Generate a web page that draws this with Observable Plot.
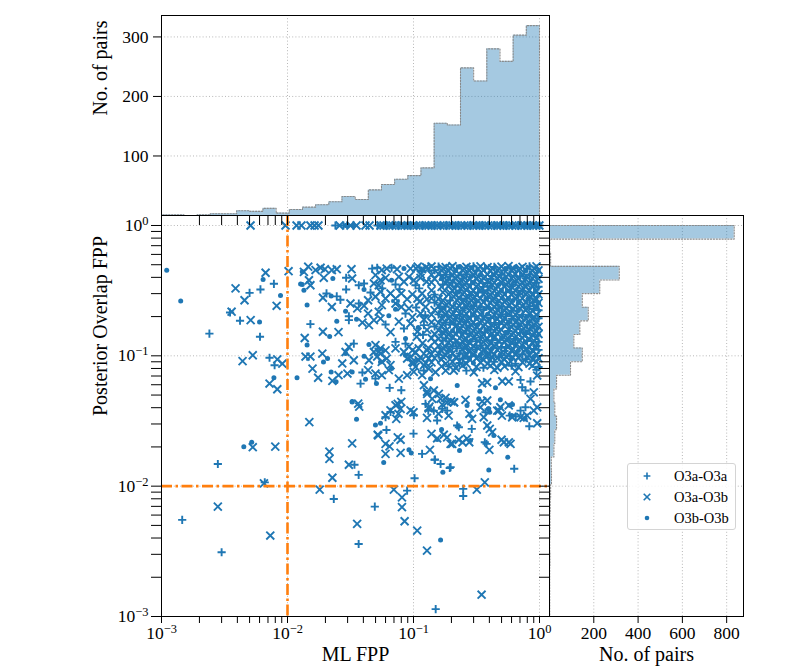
<!DOCTYPE html>
<html>
<head>
<meta charset="utf-8">
<script src="https://cdn.jsdelivr.net/npm/d3@7"></script>
<script src="https://cdn.jsdelivr.net/npm/@observablehq/plot@0.6"></script>
<style>
  html, body { margin: 0; padding: 0; background: #fff; }
  #wrap { position: relative; width: 801px; height: 670px; overflow: hidden; background: #fff; }
  #wrap svg { position: absolute; left: 0; top: 0; }
</style>
</head>
<body>
<div id="wrap"></div>
<script>
// ---------------- DATA ----------------
const seriesNames = ["O3a-O3a", "O3a-O3b", "O3b-O3b"];
const fppThreshold = 0.01;

// O3a-O3a pairs  [ML FPP, posterior overlap FPP]
const o3aO3a = [
  [0.0024,0.148],[0.0035,0.215],[0.0042,0.186],[0.005,0.304],[0.0061,0.323],[0.00605,0.14],[0.0078,0.357],[0.0072,0.0966],[0.0079,0.0847],
  [0.0028,0.0148],[0.0066,0.0107],[0.00146,0.00551],[0.003,0.00311],[0.0233,0.00798],[0.034,0.0146],[0.0367,0.0122],[0.0367,0.0036],
  [0.0493,0.00697],[0.089,0.00925],[0.102,0.0115],[0.15,0.00114],[0.248,0.00953],[0.248,0.0084],[0.63,0.0136],[0.164,0.0148],[0.197,0.014],
  [0.148,0.016],[0.061,0.027],[0.06,0.0338],[0.1,0.0253],[0.117,0.0177],[0.147,0.0159],[0.194,0.0138],[0.131,0.038],[0.154,0.0319],
  [0.222,0.0292],[0.229,0.0283],[0.29,0.0275],[0.368,0.0217],[0.38,0.0211],[0.58,0.0348],[0.83,0.0288],
  [0.047,0.467],[0.0515,0.474],[0.067,0.474],[0.0292,0.397],[0.072,0.353],[0.1037,0.348],[0.0204,0.301],[0.0246,0.286],[0.0263,0.269],
  [0.0292,0.323],[0.0368,0.348],[0.0405,0.359],[0.0456,0.306],[0.0565,0.329],[0.0775,0.325],[0.111,0.329],[0.0368,0.252],[0.0307,0.201],
  [0.0864,0.211],[0.0152,0.175],[0.0307,0.188],[0.06,0.174],[0.084,0.162],[0.121,0.172],[0.0336,0.124],[0.072,0.128],[0.0864,0.124],
  [0.0393,0.0745],[0.038,0.0612],[0.0499,0.0668],[0.0647,0.0568],[0.08,0.0545],[0.0657,0.0371],[0.1006,0.035],
  [0.1207,0.0771],[0.729,0.0574],[0.774,0.0542],[0.707,0.0654],[0.848,0.0636],[0.1245,0.0428],[0.145,0.038],[0.169,0.0392],[0.1851,0.038],
  [0.3727,0.0369],[0.6484,0.0342],[0.707,0.038],[0.774,0.0403],[0.105,0.235],[0.124,0.205],[0.119,0.145],
  [0.024,1],[0.0278,1],[0.0518,1],[0.0611,1],[0.076,1],[0.0946,1],[0.1179,1],[0.1467,1],[0.1826,1],[0.2273,1],[0.2829,1],[0.3522,1],
  [0.4384,1],[0.546,1],[0.68,1],[0.846,1],[0.0578,1],[0.0896,1],[0.1389,1],[0.2152,1],[0.3334,1],[0.517,1],[0.801,1],[0.997,1],
  [0.158,0.483],[0.299,0.487],[0.438,0.481],[0.833,0.485],
  [0.147,0.454],[0.316,0.449],[0.528,0.453],[0.116,0.451],
  [0.18,0.42],[0.263,0.423],[0.499,0.419],[0.833,0.421],
  [0.245,0.392],[0.409,0.389],[0.776,0.394],
  [0.204,0.365],[0.387,0.362],[0.645,0.367],[0.947,0.364],
  [0.216,0.34],[0.359,0.338],[0.6,0.342],[0.982,0.339],
  [0.232,0.317],[0.387,0.319],[0.733,0.316],
  [0.147,0.295],[0.278,0.293],[0.68,0.296],
  [0.263,0.275],[0.387,0.277],[0.833,0.274],
  [0.147,0.256],[0.316,0.258],[0.463,0.256],[0.88,0.257],
  [0.18,0.239],[0.299,0.241],[0.499,0.238],[0.833,0.24],
  [0.245,0.223],[0.359,0.225],[0.6,0.222],[0.982,0.224],
  [0.158,0.208],[0.232,0.206],[0.499,0.209],[0.733,0.207],
  [0.216,0.193],[0.409,0.195],[0.6,0.192],[0.982,0.194],
  [0.18,0.18],[0.263,0.182],[0.438,0.179],[0.833,0.181],
  [0.147,0.168],[0.278,0.17],[0.409,0.167],[0.68,0.169],
  [0.263,0.156],[0.387,0.158],[0.568,0.155],[0.833,0.157],
  [0.167,0.146],[0.278,0.148],[0.528,0.145],[0.776,0.147],
  [0.18,0.136],[0.34,0.138],[0.645,0.135],
  [0.216,0.127],[0.316,0.129],[0.463,0.126],[0.982,0.128],
  [0.204,0.118],[0.34,0.12],[0.499,0.117],[0.947,0.119],
  [0.19,0.11],[0.316,0.112],[0.528,0.109],[0.982,0.111],
  [0.158,0.102],[0.232,0.104],[0.499,0.101],[0.733,0.103],
  [0.245,0.095],[0.409,0.097],[0.776,0.094],
  [0.232,0.088],[0.438,0.09],[0.645,0.087],
  [0.19,0.083],[0.359,0.081],[0.6,0.084],[0.982,0.082],
  [0.263,0.077],[0.947,0.078],
  [0.221,0.467],[0.369,0.469],[0.796,0.466],[0.195,0.405],[0.42,0.407],[0.7,0.406],[0.171,0.353],[0.286,0.354],[0.616,0.352],
  [0.325,0.306],[0.542,0.307],[0.904,0.305],[0.195,0.266],[0.369,0.267],[0.796,0.265],[0.252,0.231],[0.477,0.232],[0.904,0.23],
  [0.286,0.2],[0.542,0.201],[0.195,0.174],[0.477,0.175],[0.796,0.173],[0.221,0.151],[0.369,0.152],[0.7,0.15],
  [0.171,0.131],[0.42,0.132],[0.796,0.13],[0.221,0.114],[0.542,0.115],[0.904,0.113],[0.286,0.099],[0.477,0.098]
];

// O3a-O3b pairs
const o3aO3b = [
  [0.00387,0.329],[0.0036,0.218],[0.00456,0.267],[0.0051,0.188],[0.0053,0.101],[0.0044,0.091],[0.0067,0.434],[0.0082,0.242],[0.0102,0.446],
  [0.0083,0.094],[0.0091,0.087],[0.0072,0.0613],[0.0083,0.0554],[0.0053,0.0199],[0.008,0.0201],[0.0065,0.0105],[0.0028,0.00697],[0.0073,0.00418],
  [0.0149,0.031],[0.0215,0.0184],[0.0215,0.0162],[0.0227,0.0116],[0.018,0.0094],[0.0326,0.0213],[0.0307,0.0146],[0.0357,0.00514],[0.0525,0.0245],
  [0.0698,0.0094],[0.081,0.0082],[0.081,0.0069],[0.085,0.00538],[0.107,0.00456],[0.128,0.0032],[0.347,0.00147],[0.318,0.0094],[0.368,0.0107],
  [0.0371,0.0408],[0.052,0.0248],[0.06,0.0211],[0.06,0.0177],[0.0645,0.0202],[0.075,0.0237],[0.079,0.0227],[0.079,0.018],[0.073,0.0328],
  [0.076,0.0359],[0.079,0.0392],[0.075,0.0428],[0.1,0.0369],[0.135,0.019],[0.134,0.0408],[0.128,0.0334],[0.139,0.0252],[0.154,0.0233],
  [0.174,0.0248],[0.185,0.0237],[0.203,0.0211],[0.169,0.0423],[0.158,0.0359],[0.19,0.0348],[0.185,0.044],[0.21,0.044],[0.278,0.0359],
  [0.292,0.0328],[0.34,0.0403],[0.361,0.0338],[0.385,0.0292],[0.403,0.0275],[0.421,0.0259],[0.229,0.0227],[0.245,0.0217],[0.266,0.0232],
  [0.277,0.0217],[0.197,0.0211],[0.4,0.019],[0.5,0.0227],[0.521,0.0217],[0.571,0.0217],[0.589,0.0211],[0.475,0.038],[0.503,0.0348],
  [0.607,0.0338],[0.707,0.0338],[0.75,0.0334],[0.798,0.0348],[0.901,0.038],[0.959,0.0304],
  [0.0135,0.441],[0.0146,0.483],[0.0167,0.455],[0.0183,0.474],[0.0198,0.462],[0.0225,0.455],[0.0246,0.462],[0.0322,0.462],[0.056,0.455],
  [0.0613,0.467],[0.074,0.462],[0.0947,0.467],[0.105,0.467],[0.117,0.462],[0.131,0.467],
  [0.0148,0.38],[0.0152,0.348],[0.0194,0.397],[0.0326,0.392],[0.0499,0.416],[0.0547,0.38],[0.06,0.397],[0.053,0.348],[0.0485,0.359],
  [0.0765,0.404],[0.084,0.37],[0.092,0.404],[0.1006,0.38],[0.1137,0.397],[0.127,0.37],
  [0.0191,0.279],[0.0436,0.267],[0.0499,0.284],[0.0547,0.31],[0.06,0.275],[0.0657,0.301],[0.072,0.275],[0.08,0.301],[0.089,0.272],
  [0.098,0.296],[0.1075,0.275],[0.117,0.301],[0.128,0.272],
  [0.0225,0.237],[0.0316,0.252],[0.0405,0.242],[0.0358,0.231],[0.0436,0.211],[0.0485,0.188],[0.056,0.245],[0.053,0.218],[0.072,0.252],
  [0.098,0.198],[0.1137,0.211],[0.08,0.237],[0.1245,0.237],[0.092,0.231],
  [0.0393,0.18],[0.0443,0.172],[0.0547,0.193],[0.0657,0.152],[0.1075,0.153],[0.0765,0.183],[0.0947,0.177],[0.128,0.158],
  [0.0191,0.153],[0.0254,0.152],[0.0137,0.137],[0.0307,0.117],[0.0289,0.107],[0.0499,0.121],[0.0547,0.114],[0.053,0.107],[0.06,0.11],
  [0.072,0.114],[0.084,0.107],[0.098,0.11],[0.11,0.114],[0.128,0.11],
  [0.0139,0.0987],[0.0152,0.0987],[0.0189,0.104],[0.0272,0.0874],[0.0336,0.0925],[0.0443,0.0925],[0.0485,0.107],[0.0515,0.0987],[0.0547,0.104],
  [0.056,0.0898],[0.0613,0.0953],[0.0657,0.0848],[0.089,0.0953],[0.098,0.0898],[0.11,0.0925],[0.121,0.0848],[0.132,0.0953],[0.1037,0.0823],
  [0.0158,0.0798],[0.0175,0.0679],[0.0227,0.0643],[0.0254,0.071],[0.0299,0.0731],[0.0436,0.0776],[0.0499,0.0731],[0.056,0.071],[0.0637,0.0776],
  [0.0765,0.0668],[0.089,0.071],[0.1006,0.0753],[0.117,0.071],[0.121,0.0595],[0.128,0.053],
  [0.0364,0.043],[0.06,0.035],[0.0657,0.0382],[0.072,0.0418],[0.08,0.0443],[0.0947,0.0382],[0.132,0.0395],
  [0.1322,0.0795],[0.1494,0.0748],[0.2088,0.0771],[0.301,0.0748],[0.351,0.0616],[0.3846,0.0627],[0.506,0.0638],[0.5705,0.0636],[0.959,0.0706],
  [0.901,0.0525],[0.145,0.0542],[0.1588,0.0511],[0.1284,0.0511],[0.1407,0.0468],[0.1637,0.0468],[0.1795,0.0476],[0.1992,0.0448],[0.2088,0.044],
  [0.2587,0.046],[0.351,0.0448],[0.3846,0.0454],[0.4617,0.038],[0.489,0.0403],[0.5705,0.0416],[0.848,0.0468],[0.959,0.0403],
  [0.112,0.26],[0.121,0.19],[0.106,0.14],[0.118,0.125],[0.113,0.097],[0.125,0.088],
  [0.092,0.118],[0.095,0.098],[0.104,0.106],[0.126,0.1],[0.131,0.115],[0.1,0.088],
  [0.00509,1],[0.00964,1],[0.0118,1],[0.0129,1],[0.0152,1],[0.0164,1],[0.0176,1],[0.0259,1],[0.0316,1],[0.0353,1],[0.0416,1],[0.0448,1],
  [0.0547,1],[0.0578,1],[0.0645,1],[0.0681,1],[0.072,1],[0.0803,1],[0.0848,1],[0.0896,1],[0.1,1],[0.1056,1],[0.1116,1],[0.1245,1],
  [0.1315,1],[0.1389,1],[0.155,1],[0.1637,1],[0.1729,1],[0.1929,1],[0.2037,1],[0.2152,1],[0.2401,1],[0.2536,1],[0.2679,1],[0.2989,1],
  [0.3157,1],[0.3334,1],[0.372,1],[0.3929,1],[0.415,1],[0.463,1],[0.489,1],[0.517,1],[0.577,1],[0.609,1],[0.643,1],[0.718,1],[0.758,1],
  [0.801,1],[0.893,1],[0.944,1],[0.997,1],
  [0.139,0.485],[0.18,0.48],[0.204,0.487],[0.263,0.482],[0.34,0.486],[0.387,0.479],[0.499,0.484],[0.568,0.488],[0.733,0.481],[0.947,0.486],[0.126,0.478],[0.108,0.484],
  [0.167,0.452],[0.19,0.448],[0.245,0.455],[0.278,0.45],[0.359,0.453],[0.409,0.447],[0.463,0.454],[0.6,0.45],[0.68,0.456],[0.88,0.449],[0.982,0.453],
  [0.139,0.42],[0.158,0.424],[0.204,0.418],[0.232,0.423],[0.299,0.419],[0.387,0.422],[0.438,0.417],[0.568,0.421],[0.645,0.425],[0.733,0.418],[0.947,0.422],[0.114,0.423],
  [0.147,0.39],[0.19,0.394],[0.216,0.389],[0.278,0.393],[0.316,0.388],[0.359,0.395],[0.463,0.391],[0.6,0.394],[0.68,0.389],[0.88,0.393],[0.982,0.39],
  [0.139,0.366],[0.18,0.362],[0.232,0.367],[0.263,0.363],[0.34,0.368],[0.438,0.364],[0.499,0.367],[0.568,0.362],[0.733,0.366],[0.833,0.363],
  [0.167,0.338],[0.19,0.342],[0.245,0.337],[0.278,0.341],[0.316,0.339],[0.463,0.343],[0.528,0.338],[0.68,0.341],[0.776,0.337],[0.88,0.342],
  [0.139,0.318],[0.204,0.315],[0.263,0.319],[0.299,0.316],[0.34,0.32],[0.438,0.315],[0.568,0.318],[0.645,0.316],[0.833,0.319],[0.947,0.315],
  [0.19,0.296],[0.216,0.293],[0.245,0.297],[0.316,0.294],[0.359,0.297],[0.409,0.293],[0.528,0.296],[0.6,0.294],[0.776,0.297],[0.88,0.293],[0.982,0.296],
  [0.139,0.276],[0.158,0.273],[0.232,0.277],[0.299,0.274],[0.34,0.276],[0.438,0.273],[0.499,0.277],[0.645,0.274],[0.733,0.276],[0.947,0.273],
  [0.167,0.258],[0.19,0.255],[0.245,0.259],[0.278,0.256],[0.359,0.258],[0.409,0.255],[0.528,0.259],[0.6,0.256],[0.776,0.258],[0.982,0.255],
  [0.158,0.24],[0.204,0.237],[0.232,0.241],[0.263,0.238],[0.387,0.24],[0.438,0.237],[0.568,0.241],[0.645,0.238],[0.733,0.24],[0.947,0.238],
  [0.147,0.224],[0.167,0.221],[0.216,0.225],[0.278,0.222],[0.316,0.224],[0.409,0.221],[0.463,0.225],[0.528,0.222],[0.776,0.224],[0.88,0.221],
  [0.139,0.207],[0.18,0.209],[0.204,0.206],[0.263,0.21],[0.299,0.207],[0.34,0.209],[0.438,0.206],[0.568,0.21],[0.645,0.207],[0.833,0.209],[0.947,0.206],
  [0.167,0.194],[0.19,0.192],[0.245,0.195],[0.278,0.192],[0.359,0.194],[0.463,0.191],[0.528,0.195],[0.68,0.192],[0.776,0.194],[0.88,0.191],
  [0.139,0.181],[0.158,0.179],[0.204,0.182],[0.232,0.178],[0.299,0.181],[0.34,0.179],[0.387,0.182],[0.499,0.178],[0.645,0.181],[0.733,0.179],[0.947,0.182],
  [0.167,0.169],[0.216,0.167],[0.245,0.17],[0.316,0.166],[0.359,0.169],[0.463,0.167],[0.528,0.17],[0.6,0.166],[0.776,0.169],[0.982,0.167],
  [0.158,0.157],[0.18,0.155],[0.232,0.158],[0.299,0.155],[0.34,0.157],[0.438,0.154],[0.499,0.158],[0.645,0.155],[0.733,0.157],[0.947,0.155],
  [0.147,0.147],[0.19,0.145],[0.216,0.148],[0.245,0.144],[0.316,0.147],[0.359,0.145],[0.463,0.148],[0.6,0.145],[0.68,0.147],[0.88,0.144],[0.982,0.147],
  [0.139,0.137],[0.158,0.135],[0.204,0.138],[0.263,0.135],[0.299,0.137],[0.387,0.135],[0.438,0.138],[0.568,0.135],[0.733,0.137],[0.833,0.134],[0.947,0.137],
  [0.147,0.128],[0.19,0.126],[0.245,0.129],[0.278,0.126],[0.359,0.128],[0.409,0.125],[0.528,0.128],[0.6,0.126],[0.68,0.129],[0.88,0.126],
  [0.158,0.119],[0.18,0.117],[0.232,0.12],[0.263,0.117],[0.299,0.119],[0.387,0.116],[0.438,0.119],[0.568,0.117],[0.645,0.12],[0.833,0.117],
  [0.147,0.111],[0.167,0.109],[0.245,0.112],[0.278,0.109],[0.359,0.111],[0.409,0.108],[0.463,0.111],[0.6,0.109],[0.776,0.112],[0.88,0.109],
  [0.139,0.103],[0.18,0.101],[0.204,0.104],[0.263,0.101],[0.299,0.103],[0.387,0.1],[0.438,0.103],[0.568,0.101],[0.645,0.104],[0.833,0.101],[0.947,0.103],
  [0.147,0.096],[0.167,0.094],[0.216,0.097],[0.278,0.094],[0.316,0.096],[0.359,0.093],[0.463,0.096],[0.528,0.094],[0.68,0.097],[0.88,0.094],[0.982,0.096],
  [0.139,0.089],[0.18,0.087],[0.204,0.09],[0.263,0.087],[0.34,0.089],[0.387,0.087],[0.499,0.09],[0.568,0.087],[0.733,0.089],[0.833,0.087],[0.947,0.09],
  [0.167,0.083],[0.216,0.081],[0.245,0.084],[0.316,0.082],[0.409,0.084],[0.463,0.081],[0.528,0.083],[0.68,0.082],[0.88,0.084],
  [0.18,0.077],[0.438,0.078],[0.645,0.076],
  [0.171,0.468],[0.195,0.471],[0.252,0.466],[0.286,0.47],[0.325,0.467],[0.42,0.469],[0.477,0.465],[0.616,0.47],[0.7,0.467],[0.904,0.469],
  [0.171,0.406],[0.221,0.409],[0.252,0.404],[0.325,0.407],[0.369,0.404],[0.477,0.408],[0.542,0.405],[0.616,0.407],[0.796,0.404],[0.904,0.408],
  [0.195,0.354],[0.221,0.351],[0.252,0.355],[0.325,0.352],[0.369,0.355],[0.42,0.351],[0.542,0.354],[0.7,0.352],[0.796,0.355],[0.904,0.351],
  [0.171,0.307],[0.195,0.304],[0.252,0.308],[0.286,0.305],[0.369,0.307],[0.42,0.304],[0.477,0.308],[0.616,0.305],[0.7,0.307],[0.796,0.304],
  [0.171,0.266],[0.221,0.268],[0.252,0.265],[0.286,0.267],[0.325,0.264],[0.42,0.268],[0.477,0.265],[0.542,0.267],[0.7,0.265],[0.904,0.267],
  [0.171,0.232],[0.195,0.229],[0.221,0.233],[0.286,0.23],[0.325,0.232],[0.42,0.229],[0.542,0.233],[0.616,0.23],[0.7,0.232],[0.796,0.229],
  [0.195,0.201],[0.221,0.199],[0.252,0.202],[0.325,0.199],[0.369,0.201],[0.42,0.198],[0.477,0.202],[0.616,0.199],[0.7,0.201],[0.904,0.199],
  [0.171,0.175],[0.221,0.173],[0.252,0.176],[0.286,0.173],[0.369,0.175],[0.42,0.172],[0.542,0.176],[0.616,0.173],[0.7,0.175],[0.904,0.173],
  [0.171,0.152],[0.195,0.15],[0.252,0.153],[0.286,0.15],[0.325,0.152],[0.42,0.149],[0.477,0.153],[0.616,0.15],[0.796,0.152],[0.904,0.15],
  [0.195,0.132],[0.221,0.13],[0.252,0.133],[0.325,0.13],[0.369,0.132],[0.477,0.13],[0.542,0.133],[0.616,0.13],[0.7,0.132],[0.904,0.13],
  [0.171,0.115],[0.195,0.113],[0.252,0.116],[0.286,0.113],[0.325,0.115],[0.369,0.112],[0.477,0.115],[0.616,0.113],[0.7,0.116],[0.796,0.113],
  [0.171,0.099],[0.221,0.097],[0.252,0.1],[0.325,0.098],[0.369,0.1],[0.42,0.097],[0.542,0.099],[0.616,0.097],[0.7,0.1],[0.796,0.098]
];

// O3b-O3b pairs
const o3bO3b = [
  [0.0011,0.454],[0.00142,0.264],[0.0064,0.385],[0.006,0.182],[0.0088,0.29],[0.0078,0.0678],[0.0119,0.0678],[0.0127,0.355],
  [0.0045,0.0201],[0.0052,0.0217],[0.058,0.0152],[0.164,0.00387],[0.396,0.0133],[0.56,0.0167],[0.171,0.0128],
  [0.0353,0.0326],[0.0326,0.0446],[0.0499,0.0295],[0.0547,0.0304],[0.092,0.019],[0.096,0.018],[0.167,0.0272],[0.154,0.0228],[0.266,0.0416],
  [0.392,0.0392],[0.403,0.0369],[0.434,0.0245],[0.232,0.0188],[0.283,0.0224],[0.58,0.0418],[0.77,0.0328],
  [0.0131,0.441],[0.0131,0.353],[0.0229,0.392],[0.084,0.467],[0.067,0.38],[0.0135,0.319],[0.0222,0.288],[0.0405,0.323],[0.0143,0.245],
  [0.0289,0.22],[0.0637,0.203],[0.072,0.228],[0.0246,0.184],[0.0353,0.191],[0.0864,0.136],[0.0216,0.141],[0.0143,0.121],[0.0443,0.122],
  [0.0193,0.0898],[0.0208,0.0953],[0.0289,0.104],[0.0405,0.0993],[0.0547,0.0898],[0.0864,0.101],[0.0222,0.0753],[0.0243,0.0632],
  [0.0326,0.0753],[0.0416,0.0661],[0.0508,0.0612],[0.067,0.0798],[0.1365,0.0668],[0.0326,0.0443],
  [0.2223,0.0592],[0.336,0.0535],[0.4475,0.0568],[0.3298,0.0468],[0.396,0.0392],[0.489,0.046],[0.6105,0.0423],[0.6028,0.0348],
  [0.109,0.165],
  [0.0289,1],[0.0299,1],[0.0334,1],[0.068,1],[0.121,1],[0.2,1],[0.31,1],[0.45,1],[0.62,1],[0.87,1],
  [0.232,0.484],[0.645,0.48],[0.216,0.451],[0.776,0.452],[0.34,0.42],[0.167,0.391],[0.528,0.392],[0.299,0.365],[0.409,0.341],
  [0.499,0.317],[0.463,0.295],[0.568,0.275],[0.68,0.257],[0.34,0.239],[0.68,0.223],[0.387,0.208],[0.316,0.193],[0.568,0.18],
  [0.88,0.168],[0.204,0.156],[0.409,0.146],[0.499,0.136],[0.776,0.127],[0.733,0.118],[0.68,0.11],[0.34,0.102],[0.6,0.095],[0.299,0.088],
  [0.542,0.468],[0.286,0.406],[0.477,0.353],[0.221,0.306],[0.616,0.266],[0.369,0.231],[0.171,0.2],[0.796,0.2],[0.325,0.174],
  [0.542,0.151],[0.286,0.131],[0.42,0.114],[0.195,0.099],[0.904,0.099]
];

// Marginal histograms: counts per shared log-spaced bin
const histLogRange = [-3.0305, 0];   // log10 of first and last bin edge
const mlFppCounts = [1,1,0,1,3,3,8,7,12,4,10,14,18,23,32,27,43,52,61,67,80,155,152,248,226,280,259,303,319]; // from low to high ML FPP
const overlapFppCounts = [834,1,5,315,227,148,175,137,110,148,95,32,20,24,32,24,20,8,9,5,3,2,2,1,2,1,1,1,1]; // from FPP = 1 downwards

const majorLogTicks = [1e-3, 1e-2, 1e-1, 1];
const countTicksTop = [100, 200, 300];
const countTicksRight = [200, 400, 600, 800];

// ---------------- LAYOUT / STYLE ----------------
const W = 801, H = 670;
const BLUE = "#1f77b4", ORANGE = "#ff7f0e";
const FONT = "'Liberation Serif', 'DejaVu Serif', 'Times New Roman', serif";
const GRID = {stroke: "#b0b0b0", strokeOpacity: 1, strokeWidth: 0.9, strokeDasharray: "1,2.2"};
const xDomain = [1e-3, 1.2005];
const yDomain = [1e-3, 1.193];
const topCountMax = 336, rightCountMax = 876;

const minorLogTicks = [];
for (let e = -3; e <= 0; e++) for (let d = 2; d <= 9; d++) { const v = d * 10 ** e; if (v < 1.19) minorLogTicks.push(v); }
const powFmt = v => "10^" + String(Math.round(Math.log10(v))).replace("-", "\u2212");
const blank = () => "";

// bins
const nBins = mlFppCounts.length;
const edges = d3.range(nBins + 1).map(i => 10 ** (histLogRange[0] + i * (histLogRange[1] - histLogRange[0]) / nBins));
const topStep = [{x: edges[0], c: 0}];
mlFppCounts.forEach((c, i) => { topStep.push({x: edges[i], c}, {x: edges[i + 1], c}); });
topStep.push({x: edges[nBins], c: 0});
const rightAsc = overlapFppCounts.slice().reverse(); // from low FPP upwards
const rightStep = [{y: edges[0], c: 0}];
rightAsc.forEach((c, i) => { rightStep.push({y: edges[i], c}, {y: edges[i + 1], c}); });
rightStep.push({y: edges[nBins], c: 0});

function supify(svg) {
  svg.querySelectorAll("text").forEach(t => {
    const m = /^10\^(.+)$/.exec(t.textContent);
    if (m) {
      t.textContent = "10";
      const ts = document.createElementNS("http://www.w3.org/2000/svg", "tspan");
      ts.setAttribute("dy", "-0.48em");
      ts.setAttribute("font-size", "71%");
      ts.textContent = m[1];
      t.appendChild(ts);
    }
  });
  return svg;
}

const wrap = document.getElementById("wrap");
const MS = 1.9; // marker stroke width

// ---------------- SCATTER ----------------
const scatter = Plot.plot({
  width: W, height: H,
  marginLeft: 161, marginRight: W - 549, marginTop: 215, marginBottom: H - 616,
  style: {fontFamily: FONT, fontSize: "17.5px", background: "white", overflow: "visible", color: "black"},
  x: {type: "log", domain: xDomain},
  y: {type: "log", domain: yDomain},
  marks: [
    Plot.gridX([1e-2, 1e-1, 1], GRID),
    Plot.gridY([1e-2, 1e-1, 1], GRID),
    Plot.dot(o3aO3a, {x: d => d[0], y: d => d[1], symbol: "plus", r: 2.75, stroke: BLUE, strokeWidth: MS, clip: true}),
    Plot.dot(o3aO3b, {x: d => d[0], y: d => d[1], symbol: "times", r: 3.7, stroke: BLUE, strokeWidth: MS, clip: true}),
    Plot.dot(o3bO3b, {x: d => d[0], y: d => d[1], r: 2.5, fill: BLUE, stroke: "none", clip: true}),
    Plot.ruleX([fppThreshold], {stroke: ORANGE, strokeWidth: 2.6, strokeDasharray: "11,3.5,2.5,3.5"}),
    Plot.ruleY([fppThreshold], {stroke: ORANGE, strokeWidth: 2.6, strokeDasharray: "11,3.5,2.5,3.5"}),
    Plot.frame({stroke: "black", strokeWidth: 1}),
    Plot.axisX(majorLogTicks, {tickSize: 7, tickPadding: 3, tickFormat: powFmt, fontSize: 17.5, label: null}),
    Plot.axisX(minorLogTicks, {tickSize: 7, tickFormat: blank, label: null}),
    Plot.axisY(majorLogTicks, {tickSize: 10, tickPadding: 3, tickFormat: powFmt, fontSize: 17.5, label: null}),
    Plot.axisY(minorLogTicks, {tickSize: 10, tickFormat: blank, label: null}),
    Plot.text(["ML FPP"], {frameAnchor: "bottom", dy: 44, fontSize: 20}),
    Plot.text(["Posterior Overlap FPP"], {frameAnchor: "left", rotate: -90, dx: -61, fontSize: 20})
  ]
});
wrap.appendChild(supify(scatter));

// ---------------- TOP HISTOGRAM ----------------
const topHist = Plot.plot({
  width: W, height: H,
  marginLeft: 161, marginRight: W - 549, marginTop: 15, marginBottom: H - 215,
  style: {fontFamily: FONT, fontSize: "17.5px", background: "transparent", overflow: "visible", color: "black"},
  x: {type: "log", domain: xDomain},
  y: {domain: [0, topCountMax]},
  marks: [
    Plot.gridX([1e-2, 1e-1, 1], GRID),
    Plot.gridY(countTicksTop, GRID),
    Plot.area(topStep, {x1: "x", y1: 0, y2: "c", fill: BLUE, fillOpacity: 0.4, curve: "linear", clip: true}),
    Plot.line(topStep, {x: "x", y: "c", stroke: "#8a8a8a", strokeWidth: 1.1, strokeDasharray: "1.3,1.6", clip: true}),
    Plot.frame({stroke: "black", strokeWidth: 1}),
    Plot.axisX(majorLogTicks, {tickSize: 10, tickFormat: blank, label: null}),
    Plot.axisX(minorLogTicks, {tickSize: 10, tickFormat: blank, label: null}),
    Plot.axisY(countTicksTop, {tickSize: 8, tickPadding: 5, tickFormat: d => String(d), fontSize: 17.5, label: null}),
    Plot.text(["No. of pairs"], {frameAnchor: "left", rotate: -90, dx: -61, fontSize: 20})
  ]
});
wrap.appendChild(topHist);

// ---------------- RIGHT HISTOGRAM ----------------
const rightHist = Plot.plot({
  width: W, height: H,
  marginLeft: 549, marginRight: W - 743, marginTop: 215, marginBottom: H - 616,
  style: {fontFamily: FONT, fontSize: "17.5px", background: "transparent", overflow: "visible", color: "black"},
  x: {domain: [0, rightCountMax]},
  y: {type: "log", domain: yDomain},
  marks: [
    Plot.gridX(countTicksRight, GRID),
    Plot.gridY([1e-2, 1e-1, 1], GRID),
    Plot.area(rightStep, {y1: "y", x1: 0, x2: "c", fill: BLUE, fillOpacity: 0.4, curve: "linear", clip: true}),
    Plot.line(rightStep, {x: "c", y: "y", stroke: "#8a8a8a", strokeWidth: 1.1, strokeDasharray: "1.3,1.6", clip: true}),
    Plot.frame({stroke: "black", strokeWidth: 1}),
    Plot.axisY(majorLogTicks, {tickSize: 10, tickFormat: blank, label: null}),
    Plot.axisY(minorLogTicks, {tickSize: 10, tickFormat: blank, label: null}),
    Plot.axisX(countTicksRight, {tickSize: 7, tickPadding: 3, tickFormat: d => String(d), fontSize: 17.5, label: null}),
    Plot.text(["No. of pairs"], {frameAnchor: "bottom", dy: 44, fontSize: 20})
  ]
});
wrap.appendChild(rightHist);

// ---------------- LEGEND ----------------
const legend = document.createElement("div");
legend.style.cssText = "position:absolute;left:627px;top:463px;width:109px;height:67px;box-sizing:border-box;" +
  "border:1px solid #d4d4d4;border-radius:3px;background:rgba(255,255,255,0.85);font-family:" + FONT + ";font-size:14.5px;color:#000;";
const legendSymbols = [
  {type: d3.symbolPlus, size: 17, stroke: true},
  {type: d3.symbolTimes, size: 30, stroke: true},
  {type: d3.symbolCircle, size: Math.PI * 2.3 * 2.3, stroke: false}
];
seriesNames.forEach((name, i) => {
  const cy = 12 + i * 21;
  const svg = d3.create("svg").attr("width", 16).attr("height", 16)
    .style("position", "absolute").style("left", "11px").style("top", (cy - 8) + "px");
  const s = legendSymbols[i];
  svg.append("path").attr("transform", "translate(8,8)")
    .attr("d", d3.symbol(s.type, s.size)())
    .attr("fill", s.stroke ? "none" : BLUE)
    .attr("stroke", s.stroke ? BLUE : "none")
    .attr("stroke-width", 1.6);
  legend.appendChild(svg.node());
  const label = document.createElement("span");
  label.textContent = name;
  label.style.cssText = "position:absolute;left:46px;top:" + (cy - 9) + "px;line-height:18px;white-space:nowrap;";
  legend.appendChild(label);
});
wrap.appendChild(legend);
</script>
</body>
</html>
